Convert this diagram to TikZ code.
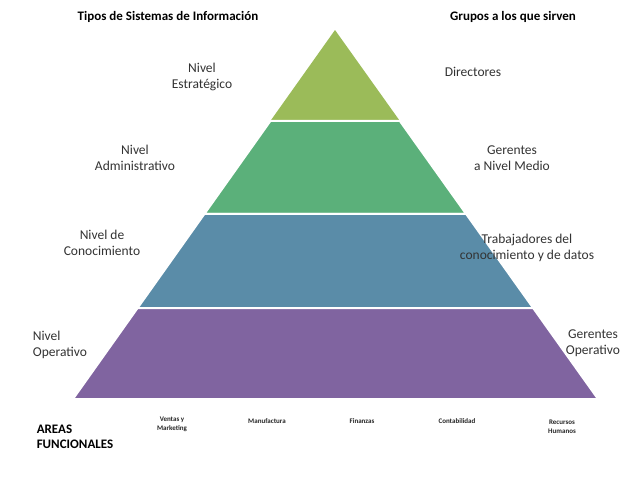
\documentclass[tikz,border=0pt]{standalone}
\usepackage{fontspec}
\setmainfont{Carlito}
\begin{document}
\begin{tikzpicture}[x=1pt,y=-1pt,
  band/.style={draw=white,line width=2pt},
  lab/.style={font=\fontsize{13.5}{16}\selectfont,align=center,text=black!80,inner sep=0},
  head/.style={font=\bfseries\fontsize{13}{15}\selectfont,inner sep=0},
  area/.style={font=\bfseries\fontsize{7}{9}\selectfont,align=center,inner sep=0,text=black!85}]
\useasboundingbox (0,0) rectangle (640,479);
\fill[white] (0,0) rectangle (640,479);
\coordinate (A) at (335,30);
\coordinate (L) at (73,399);
\coordinate (R) at (598,399);
\path (A) -- (L) coordinate[pos=0.2466] (l1) coordinate[pos=0.4986] (l2) coordinate[pos=0.7534] (l3);
\path (A) -- (R) coordinate[pos=0.2466] (r1) coordinate[pos=0.4986] (r2) coordinate[pos=0.7534] (r3);
\filldraw[band,fill=olive!40!green!70!yellow!80!black] (A) -- (r1) -- (l1) -- cycle;
\fill[fill={rgb,255:red,155;green,187;blue,89}] (A) -- (r1) -- (l1) -- cycle;
\draw[white,line width=2pt] (l1) -- (r1);
\filldraw[band,fill={rgb,255:red,91;green,176;blue,122}] (l1) -- (r1) -- (r2) -- (l2) -- cycle;
\filldraw[band,fill={rgb,255:red,90;green,140;blue,168}] (l2) -- (r2) -- (r3) -- (l3) -- cycle;
\filldraw[band,fill={rgb,255:red,128;green,100;blue,160}] (l3) -- (r3) -- (R) -- (L) -- cycle;
\node[head] (t1) at (168,17) {Tipos de Sistemas de Información};
\node[head] (t2) at (513,17) {Grupos a los que sirven};
\node[lab] (n1) at (202,77) {Nivel\\Estratégico};
\node[lab] (n2) at (135,158) {Nivel\\Administrativo};
\node[lab] (n3) at (102,243) {Nivel de\\Conocimiento};
\node[lab,align=left] (n4) at (60,345) {Nivel\\Operativo};
\node[lab] (g1) at (473,72) {Directores};
\node[lab] (g2) at (512,158) {Gerentes\\a Nivel Medio};
\node[lab] (g3) at (527,248) {Trabajadores del\\conocimiento y de datos};
\node[lab] (g4) at (593,343) {Gerentes\\Operativo};
\node[head,align=left] (af) at (75,437) {AREAS\\FUNCIONALES};
\node[area] (a1) at (172,424) {Ventas y\\Marketing};
\node[area] (a2) at (267,421) {Manufactura};
\node[area] (a3) at (362,421) {Finanzas};
\node[area] (a4) at (457,421) {Contabilidad};
\node[area] (a5) at (562,427) {Recursos\\Humanos};
\end{tikzpicture}
\end{document}
